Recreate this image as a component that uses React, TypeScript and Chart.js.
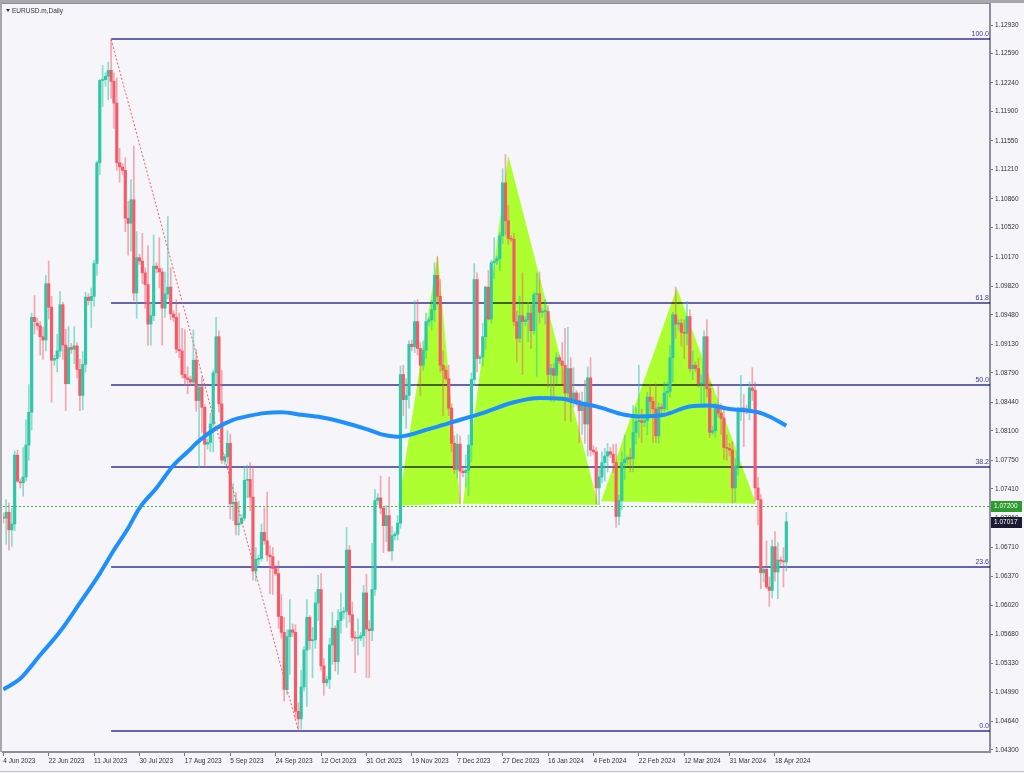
import React, { useEffect, useRef } from "react";
import { Chart, registerables } from "chart.js";
Chart.register(...registerables);

// ---- axis labels ----
const xTickIndex = [0, 16, 32, 48, 64, 80, 96, 112, 128, 144, 160, 176, 192, 208, 224, 240, 256, 272];
const xTickLabels = [
  "4 Jun 2023", "22 Jun 2023", "11 Jul 2023", "30 Jul 2023", "17 Aug 2023", "5 Sep 2023",
  "24 Sep 2023", "12 Oct 2023", "31 Oct 2023", "19 Nov 2023", "7 Dec 2023", "27 Dec 2023",
  "16 Jan 2024", "4 Feb 2024", "22 Feb 2024", "12 Mar 2024", "31 Mar 2024", "18 Apr 2024",
];
const yTickValues = [
  1.1293, 1.1259, 1.1224, 1.119, 1.1155, 1.1121, 1.1086, 1.1052, 1.1017, 1.0982, 1.0948, 1.0913,
  1.0879, 1.0844, 1.081, 1.0775, 1.0741, 1.0706, 1.0671, 1.0637, 1.0602, 1.0568, 1.0533, 1.0499,
  1.0464, 1.043,
];

// ---- daily candles (one line per week, Sunday bar first) ----
const opens = [
  1.0707, 1.0706, 1.0713, 1.0692, 1.0699, 1.0781,
  1.0749, 1.0748, 1.0755, 1.0793, 1.0832, 1.0945,
  1.0938, 1.0935, 1.0922, 1.0918, 1.0985, 1.0957,
  1.0894, 1.0896, 1.0905, 1.096, 1.0912, 1.0866,
  1.0909, 1.0907, 1.0911, 1.0883, 1.0852, 1.0889,
  1.0969, 1.0965, 1.097, 1.1009, 1.1129, 1.1227,
  1.1228, 1.1232, 1.1239, 1.1226, 1.12, 1.1129,
  1.1124, 1.112, 1.1063, 1.1057, 1.1085, 1.0974,
  1.1016, 1.1012, 1.0998, 1.0984, 1.0937, 1.0947,
  1.1006, 1.1003, 1.0999, 1.0956, 1.0973, 1.0981,
  1.0949, 1.0945, 1.0907, 1.0905, 1.0877, 1.0873,
  1.0871, 1.0868, 1.0894, 1.0846, 1.0862, 1.0838,
  1.0794, 1.0796, 1.0818, 1.0879, 1.0922, 1.0842,
  1.0775, 1.0779, 1.0795, 1.0723, 1.0725, 1.0698,
  1.07, 1.0706, 1.0751, 1.0752, 1.0731, 1.0643,
  1.0657, 1.0658, 1.0689, 1.0679, 1.0662, 1.066,
  1.0646, 1.064, 1.0589, 1.057, 1.0502, 1.0565,
  1.0573, 1.057, 1.0476, 1.0467, 1.0505, 1.0549,
  1.0588, 1.056, 1.0561, 1.0605, 1.0621, 1.053,
  1.051, 1.0514, 1.0555, 1.0575, 1.0535, 1.0584,
  1.0594, 1.0595, 1.0668, 1.0591, 1.0564, 1.0563,
  1.0563, 1.0566, 1.0617, 1.0574, 1.0572, 1.0621,
  1.0727, 1.073, 1.0718, 1.0697, 1.0709, 1.0667,
  1.0685, 1.0687, 1.07, 1.0877, 1.0847, 1.0852,
  1.0913, 1.091, 1.094, 1.0908, 1.0888, 1.0906,
  1.094, 1.0942, 1.0954, 1.0995, 1.097, 1.0888,
  1.0882, 1.0872, 1.0837, 1.0795, 1.0764, 1.0794,
  1.0762, 1.076, 1.0763, 1.0793, 1.0871, 1.099,
  1.0896, 1.0898, 1.0922, 1.0981, 1.0943, 1.101,
  1.1012, 1.1015, 1.1042, 1.1105, 1.106,
  1.1039, 1.1038, 1.094, 1.092, 1.0947,
  1.094, 1.0942, 1.095, 1.0929, 1.0972, 1.0973,
  1.0951, 1.0952, 1.0952, 1.0877, 1.0884, 1.0876,
  1.0897, 1.0893, 1.0888, 1.0855, 1.0884, 1.0845,
  1.0855, 1.0846, 1.0834, 1.0844, 1.0818, 1.0873,
  1.0787, 1.0785, 1.0742, 1.0755, 1.0772, 1.078,
  1.0785, 1.0782, 1.0772, 1.0708, 1.0727, 1.0772,
  1.0776, 1.0778, 1.0777, 1.0808, 1.0821, 1.0822,
  1.082, 1.0822, 1.085, 1.0845, 1.0836, 1.0804,
  1.0838, 1.0836, 1.0855, 1.0857, 1.0897, 1.0948,
  1.0937, 1.0938, 1.0927, 1.0926, 1.0946, 1.0884,
  1.0888, 1.0884, 1.0866, 1.0866, 1.0922, 1.086,
  1.0808, 1.081, 1.0838, 1.0831, 1.0825, 1.079,
  1.0789, 1.0787, 1.0742, 1.0768, 1.0836, 1.0837,
  1.0836, 1.0834, 1.0861, 1.0858, 1.0742, 1.0728,
  1.0641, 1.0645, 1.0624, 1.062, 1.0672, 1.0642,
  1.0656, 1.0655, 1.0654,
];
const highs = [
  1.0712, 1.0728, 1.0724, 1.0718, 1.0786, 1.0787,
  1.0753, 1.079, 1.0823, 1.0865, 1.095, 1.0971,
  1.0944, 1.094, 1.0933, 1.0995, 1.1012, 1.097,
  1.09, 1.0925, 1.0976, 1.0963, 1.0931, 1.0934,
  1.0914, 1.0934, 1.0915, 1.0895, 1.0904, 1.0975,
  1.0973, 1.098, 1.1013, 1.1131, 1.1228, 1.1245,
  1.1236, 1.1249, 1.1276, 1.1236, 1.123, 1.1146,
  1.1128, 1.1135, 1.1083, 1.1109, 1.1149, 1.1047,
  1.102, 1.1045, 1.1004, 1.103, 1.0963, 1.1043,
  1.101, 1.104, 1.1003, 1.0999, 1.1065, 1.1004,
  1.0953, 1.0966, 1.095, 1.0932, 1.093, 1.0886,
  1.0875, 1.093, 1.0906, 1.0864, 1.0874, 1.0841,
  1.08, 1.0831, 1.0882, 1.0945, 1.0929, 1.0882,
  1.0782, 1.081, 1.0806, 1.0747, 1.0736, 1.0726,
  1.071, 1.0768, 1.0769, 1.0772, 1.0768, 1.0671,
  1.0662, 1.0699, 1.0718, 1.0737, 1.0673, 1.0671,
  1.065, 1.0655, 1.0615, 1.0588, 1.0573, 1.0609,
  1.058, 1.0579, 1.0486, 1.0525, 1.0553, 1.0609,
  1.059, 1.0576, 1.0618, 1.0638, 1.064, 1.0539,
  1.0518, 1.0563, 1.0594, 1.0578, 1.0597, 1.0617,
  1.06, 1.0695, 1.0673, 1.0606, 1.0571, 1.0586,
  1.057, 1.0626, 1.0639, 1.0584, 1.0676, 1.074,
  1.0735, 1.0756, 1.072, 1.0721, 1.0755, 1.0696,
  1.069, 1.0709, 1.0887, 1.0888, 1.0872, 1.0917,
  1.0918, 1.0965, 1.0966, 1.0915, 1.0917, 1.095,
  1.0945, 1.0965, 1.101, 1.1017, 1.099, 1.0905,
  1.0886, 1.0888, 1.0842, 1.0804, 1.0806, 1.0804,
  1.0768, 1.0781, 1.0805, 1.0879, 1.1009, 1.0998,
  1.09, 1.0938, 1.0982, 1.1001, 1.1013, 1.104,
  1.1018, 1.1046, 1.1122, 1.1139, 1.1078,
  1.1042, 1.1045, 1.0952, 1.097, 1.0998,
  1.0945, 1.0963, 1.096, 1.0975, 1.0998, 1.0999,
  1.0955, 1.0966, 1.0959, 1.0889, 1.089, 1.0903,
  1.09, 1.0915, 1.0932, 1.0933, 1.0897, 1.0885,
  1.0858, 1.0855, 1.0856, 1.087, 1.0886, 1.0897,
  1.0792, 1.079, 1.0765, 1.0785, 1.0789, 1.0795,
  1.079, 1.0794, 1.0794, 1.0733, 1.0785, 1.0805,
  1.078, 1.0789, 1.084, 1.0838, 1.0888, 1.0836,
  1.0825, 1.0856, 1.0865, 1.085, 1.0866, 1.0843,
  1.0842, 1.0868, 1.0868, 1.0912, 1.0951, 1.0981,
  1.0942, 1.0943, 1.0942, 1.0964, 1.0954, 1.0905,
  1.0892, 1.0896, 1.0877, 1.0929, 1.0942, 1.0868,
  1.0815, 1.0843, 1.0864, 1.0842, 1.0838, 1.0805,
  1.0795, 1.0797, 1.0777, 1.0838, 1.0876, 1.0853,
  1.084, 1.0868, 1.0885, 1.0868, 1.0755, 1.0734,
  1.0648, 1.0679, 1.0636, 1.068, 1.069, 1.0677,
  1.066, 1.0671, 1.0713,
];
const lows = [
  1.07, 1.0675, 1.0668, 1.0672, 1.0691, 1.0749,
  1.0742, 1.0732, 1.075, 1.0775, 1.0811, 1.0925,
  1.093, 1.09, 1.0895, 1.0905, 1.0943, 1.0844,
  1.0888, 1.088, 1.0898, 1.0895, 1.0834, 1.0866,
  1.0902, 1.089, 1.0873, 1.0834, 1.0835, 1.088,
  1.096, 1.0933, 1.0958, 1.0995, 1.1115, 1.1196,
  1.122, 1.1204, 1.1206, 1.117, 1.112, 1.1106,
  1.1115, 1.1047, 1.1019, 1.1024, 1.0965, 1.0944,
  1.1008, 1.0985, 1.0956, 1.0912, 1.0912, 1.0941,
  1.0998, 1.098, 1.0912, 1.0945, 1.0967, 1.0942,
  1.094, 1.0903, 1.0897, 1.0873, 1.0864, 1.0854,
  1.0864, 1.0865, 1.0833, 1.0766, 1.0808, 1.0766,
  1.0788, 1.0785, 1.0785, 1.0866, 1.0832, 1.0771,
  1.077, 1.0771, 1.0705, 1.0703, 1.0686, 1.0686,
  1.0698, 1.0703, 1.073, 1.0715, 1.0632, 1.0631,
  1.065, 1.0655, 1.0675, 1.0655, 1.0616, 1.0615,
  1.0638, 1.0575, 1.0563, 1.0488, 1.0496, 1.052,
  1.0565, 1.0468, 1.0453, 1.0455, 1.05, 1.0482,
  1.055, 1.0516, 1.0551, 1.0584, 1.0525, 1.0495,
  1.0506, 1.0503, 1.0532, 1.0524, 1.052, 1.0569,
  1.0586, 1.0576, 1.0582, 1.056, 1.0522, 1.0543,
  1.056, 1.0553, 1.0516, 1.0516, 1.056, 1.0614,
  1.0722, 1.0711, 1.0665, 1.0678, 1.0666, 1.0656,
  1.068, 1.068, 1.0694, 1.0828, 1.0813, 1.0837,
  1.0905, 1.0903, 1.09, 1.0852, 1.0882, 1.0896,
  1.0935, 1.093, 1.094, 1.096, 1.088, 1.0828,
  1.087, 1.0828, 1.0785, 1.0759, 1.0754, 1.0723,
  1.0755, 1.0743, 1.0733, 1.0773, 1.0864, 1.088,
  1.089, 1.0887, 1.0907, 1.0942, 1.0938, 1.0991,
  1.1008, 1.1001, 1.1033, 1.1043, 1.1032,
  1.1035, 1.0935, 1.0892, 1.0915, 1.0877,
  1.0935, 1.0916, 1.0908, 1.0925, 1.0875, 1.0938,
  1.0945, 1.0937, 1.0862, 1.0845, 1.0845, 1.0866,
  1.089, 1.0866, 1.0822, 1.0848, 1.0821, 1.0838,
  1.084, 1.0796, 1.0806, 1.0795, 1.078, 1.078,
  1.0782, 1.0723, 1.0722, 1.0748, 1.075, 1.0761,
  1.0778, 1.076, 1.0695, 1.0698, 1.0716, 1.0752,
  1.077, 1.0761, 1.0761, 1.0794, 1.0802, 1.0796,
  1.0815, 1.0805, 1.0828, 1.0796, 1.0796, 1.0795,
  1.083, 1.0833, 1.0835, 1.085, 1.0868, 1.092,
  1.093, 1.0911, 1.0896, 1.0912, 1.088, 1.0871,
  1.088, 1.0862, 1.0838, 1.0838, 1.085, 1.0802,
  1.0805, 1.0802, 1.0826, 1.0806, 1.0776, 1.0775,
  1.078, 1.0724, 1.0725, 1.0757, 1.0822, 1.0791,
  1.083, 1.0823, 1.0846, 1.0727, 1.0698, 1.0622,
  1.063, 1.0622, 1.0601, 1.0611, 1.0631, 1.061,
  1.065, 1.0624, 1.0643,
];
const closes = [
  1.0706, 1.0713, 1.0692, 1.0699, 1.0781, 1.075,
  1.0748, 1.0755, 1.0793, 1.0832, 1.0945, 1.094,
  1.0935, 1.0922, 1.0918, 1.0985, 1.0957, 1.0894,
  1.0896, 1.0905, 1.096, 1.0912, 1.0866, 1.0909,
  1.0907, 1.0911, 1.0883, 1.0852, 1.0889, 1.0969,
  1.0965, 1.097, 1.1009, 1.1129, 1.1227, 1.1228,
  1.1232, 1.1239, 1.1226, 1.12, 1.1129, 1.1124,
  1.112, 1.1063, 1.1057, 1.1085, 1.0974, 1.1016,
  1.1012, 1.0998, 1.0984, 1.0937, 1.0947, 1.1006,
  1.1003, 1.0999, 1.0956, 1.0973, 1.0981, 1.0949,
  1.0945, 1.0907, 1.0905, 1.0877, 1.0873, 1.0871,
  1.0868, 1.0894, 1.0846, 1.0862, 1.0838, 1.0794,
  1.0796, 1.0818, 1.0879, 1.0922, 1.0842, 1.0775,
  1.0779, 1.0795, 1.0723, 1.0725, 1.0698, 1.07,
  1.0706, 1.0751, 1.0752, 1.0731, 1.0643, 1.0657,
  1.0658, 1.0689, 1.0679, 1.0662, 1.066, 1.0646,
  1.064, 1.0589, 1.057, 1.0502, 1.0565, 1.0573,
  1.057, 1.0476, 1.0467, 1.0505, 1.0549, 1.0588,
  1.056, 1.0561, 1.0605, 1.0621, 1.053, 1.051,
  1.0514, 1.0555, 1.0575, 1.0535, 1.0584, 1.0594,
  1.0595, 1.0668, 1.0591, 1.0564, 1.0563, 1.0563,
  1.0566, 1.0617, 1.0574, 1.0572, 1.0621, 1.0727,
  1.073, 1.0718, 1.0697, 1.0709, 1.0667, 1.0685,
  1.0687, 1.07, 1.0877, 1.0847, 1.0852, 1.0913,
  1.091, 1.094, 1.0908, 1.0888, 1.0906, 1.094,
  1.0942, 1.0954, 1.0995, 1.097, 1.0888, 1.0882,
  1.0872, 1.0837, 1.0795, 1.0764, 1.0794, 1.0762,
  1.076, 1.0763, 1.0793, 1.0871, 1.099, 1.0896,
  1.0898, 1.0922, 1.0981, 1.0943, 1.101, 1.1012,
  1.1015, 1.1042, 1.1105, 1.106, 1.1039,
  1.1038, 1.094, 1.092, 1.0947, 1.094,
  1.0942, 1.095, 1.0929, 1.0972, 1.0973, 1.0951,
  1.0952, 1.0952, 1.0877, 1.0884, 1.0876, 1.0897,
  1.0893, 1.0888, 1.0855, 1.0884, 1.0845, 1.0855,
  1.0846, 1.0834, 1.0844, 1.0818, 1.0873, 1.0787,
  1.0785, 1.0742, 1.0755, 1.0772, 1.078, 1.0785,
  1.0782, 1.0772, 1.0708, 1.0727, 1.0772, 1.0776,
  1.0778, 1.0777, 1.0808, 1.0821, 1.0822, 1.082,
  1.0822, 1.085, 1.0845, 1.0836, 1.0804, 1.0838,
  1.0836, 1.0855, 1.0857, 1.0897, 1.0948, 1.0937,
  1.0938, 1.0927, 1.0926, 1.0946, 1.0884, 1.0888,
  1.0884, 1.0866, 1.0866, 1.0922, 1.086, 1.0808,
  1.081, 1.0838, 1.0831, 1.0825, 1.079, 1.0789,
  1.0787, 1.0742, 1.0768, 1.0836, 1.0837, 1.0836,
  1.0834, 1.0861, 1.0858, 1.0742, 1.0728, 1.0641,
  1.0645, 1.0624, 1.062, 1.0672, 1.0642, 1.0656,
  1.0655, 1.0654, 1.07017,
];

// ---- moving average (sampled along the curve) ----
const maIdx = [0, 6, 13, 20, 27, 34, 39, 44, 48, 54, 60, 65, 69, 75, 81, 87, 92, 98, 105, 112, 121, 128, 133, 139, 150, 159, 168, 180, 189, 197, 203, 209, 219, 224, 233, 242, 249, 256, 266, 270, 276];
const maValues = [1.0502, 1.0515, 1.0543, 1.0571, 1.0605, 1.064, 1.0668, 1.0694, 1.0718, 1.0742, 1.0769, 1.0785, 1.0798, 1.0813, 1.0823, 1.0828, 1.0831, 1.0832, 1.0829, 1.0826, 1.0819, 1.0812, 1.0806, 1.0803, 1.0812, 1.0821, 1.083, 1.0844, 1.0849, 1.0848, 1.0843, 1.0839, 1.0829, 1.0827, 1.0829, 1.0839, 1.084, 1.0836, 1.0832, 1.0827, 1.0816];

// ---- drawings ----
const triangleIdx = [[139.2, 153.1, 161.1], [162.0, 178.0, 209.7], [210.7, 237.4, 265.3]];
const trianglePrice = [[1.0721, 1.102, 1.0723], [1.0723, 1.1138, 1.0722], [1.0726, 1.098, 1.0723]];
const fibStartIdx = 38;
const fibEndIdx = 104;
const fibHigh = 1.1276;
const fibLow = 1.0453;
const fibLevels = [100, 61.8, 50, 38.2, 23.6, 0];
const fibLabels = ["100.0", "61.8", "50.0", "38.2", "23.6", "0.0"];
const alertPrice = 1.072;
const lastPrice = 1.07017;

const X_MIN = -0.106;
const X_MAX = 347.79;
const Y_MIN = 1.04276;
const Y_MAX = 1.1318;

const BULL = "#2EC8A6";
const BEAR = "#F55A68";
const BULL_WICK = "rgba(46,200,166,0.55)";
const BEAR_WICK = "rgba(245,90,104,0.5)";
const FONT = "Liberation Sans";

const overlayPlugin = {
  id: "overlay",
  beforeDatasetsDraw(chart: any) {
    const { ctx, chartArea: a, scales } = chart;
    const x = scales.x, y = scales.y;
    ctx.save();
    ctx.beginPath();
    ctx.rect(a.left, a.top, a.right - a.left, a.bottom - a.top);
    ctx.clip();
    ctx.fillStyle = "#ADFF2F";
    triangleIdx.forEach((tx, k) => {
      ctx.beginPath();
      tx.forEach((v, j) => {
        const px = x.getPixelForValue(v);
        const py = y.getPixelForValue(trianglePrice[k][j]);
        if (j === 0) ctx.moveTo(px, py); else ctx.lineTo(px, py);
      });
      ctx.closePath();
      ctx.fill();
    });
    ctx.globalCompositeOperation = "multiply";
    ctx.strokeStyle = "#6464B0";
    ctx.lineWidth = 2;
    const x0 = x.getPixelForValue(fibStartIdx);
    fibLevels.forEach((l) => {
      const p = fibLow + ((fibHigh - fibLow) * l) / 100;
      const py = Math.round(y.getPixelForValue(p));
      ctx.beginPath();
      ctx.moveTo(x0, py);
      ctx.lineTo(a.right, py);
      ctx.stroke();
    });
    ctx.globalCompositeOperation = "source-over";
    ctx.fillStyle = "#3C3C96";
    ctx.font = `7px "${FONT}"`;
    ctx.textAlign = "right";
    ctx.textBaseline = "bottom";
    fibLevels.forEach((l, i) => {
      const p = fibLow + ((fibHigh - fibLow) * l) / 100;
      const py = Math.round(y.getPixelForValue(p));
      ctx.fillText(fibLabels[i], a.right - 1, py - 1);
    });
    ctx.restore();
  },
  afterDatasetsDraw(chart: any) {
    const { ctx, chartArea: a, scales } = chart;
    const x = scales.x, y = scales.y;
    ctx.save();
    ctx.beginPath();
    ctx.rect(a.left, a.top, a.right - a.left, a.bottom - a.top);
    ctx.clip();
    ctx.strokeStyle = "#F25C64";
    ctx.lineWidth = 1;
    ctx.setLineDash([2, 2]);
    ctx.beginPath();
    ctx.moveTo(x.getPixelForValue(fibStartIdx), y.getPixelForValue(fibHigh));
    ctx.lineTo(x.getPixelForValue(fibEndIdx), y.getPixelForValue(fibLow));
    ctx.stroke();
    ctx.strokeStyle = "#45B045";
    const ay = Math.round(y.getPixelForValue(alertPrice)) + 0.5;
    ctx.beginPath();
    ctx.moveTo(a.left, ay);
    ctx.lineTo(a.right, ay);
    ctx.stroke();
    ctx.restore();
  },
  afterDraw(chart: any) {
    const { ctx, chartArea: a, scales } = chart;
    const y = scales.y;
    ctx.save();
    ctx.fillStyle = "#A8A8AC";
    ctx.fillRect(0, 0, chart.width, 3);
    ctx.fillRect(0, 0, 2, a.bottom);
    ctx.strokeStyle = "#8E8E9A";
    ctx.lineWidth = 1;
    ctx.beginPath();
    ctx.moveTo(2, 3.5);
    ctx.lineTo(a.right, 3.5);
    ctx.stroke();
    ctx.strokeStyle = "#C4C4C8";
    ctx.beginPath();
    ctx.moveTo(0, 771.5);
    ctx.lineTo(chart.width, 771.5);
    ctx.stroke();
    ctx.fillStyle = "#333";
    ctx.beginPath();
    ctx.moveTo(6, 9);
    ctx.lineTo(10, 9);
    ctx.lineTo(8, 12);
    ctx.closePath();
    ctx.fill();
    ctx.font = `6.5px "${FONT}"`;
    ctx.textAlign = "left";
    ctx.textBaseline = "middle";
    ctx.fillText("EURUSD.m,Daily", 12, 11);
    const box = (price: number, bg: string) => {
      const cy = Math.round(y.getPixelForValue(price));
      ctx.fillStyle = bg;
      ctx.fillRect(a.right + 1, cy - 5, 31, 11);
      ctx.fillStyle = "#FFFFFF";
      ctx.textAlign = "left";
      ctx.textBaseline = "middle";
      ctx.fillText(price.toFixed(5), a.right + 4, cy + 0.5);
    };
    box(alertPrice, "#2E9B2E");
    box(lastPrice, "#1A1A30");
    ctx.restore();
  },
};

export default function App() {
  const ref = useRef<HTMLCanvasElement>(null);
  useEffect(() => {
    const bodyData = opens.map((o, i) => ({ x: i, y: [o, closes[i]] }));
    const wickData = highs.map((h, i) => ({ x: i, y: [lows[i], h] }));
    const maData = maIdx.map((v, i) => ({ x: v, y: maValues[i] }));
    const isBull = (i: number) => closes[i] >= opens[i];
    const chart = new Chart(ref.current as HTMLCanvasElement, {
      type: "bar",
      data: {
        datasets: [
          {
            type: "line",
            data: maData as any,
            borderColor: "#1E8FFF",
            borderWidth: 4,
            pointRadius: 0,
            cubicInterpolationMode: "monotone",
            order: 0,
          } as any,
          {
            data: bodyData as any,
            backgroundColor: (c: any) => (isBull(c.dataIndex) ? BULL : BEAR),
            barThickness: 2.5,
            minBarLength: 1,
            grouped: false,
            order: 1,
          } as any,
          {
            data: wickData as any,
            backgroundColor: (c: any) => (isBull(c.dataIndex) ? BULL_WICK : BEAR_WICK),
            barThickness: 1,
            grouped: false,
            order: 2,
          } as any,
        ],
      },
      options: {
        responsive: false,
        animation: false,
        devicePixelRatio: 1,
        events: [],
        layout: { padding: { left: 3, top: 4, right: 0, bottom: 0 } },
        plugins: { legend: { display: false }, tooltip: { enabled: false } },
        scales: {
          x: {
            type: "linear",
            min: X_MIN,
            max: X_MAX,
            offset: false,
            grid: { display: true, drawOnChartArea: false, drawTicks: true, tickLength: 4, color: "#777", offset: false },
            border: { display: true, color: "#8E8E9A", width: 2 },
            ticks: {
              align: "start",
              maxRotation: 0,
              minRotation: 0,
              autoSkip: false,
              padding: 1,
              color: "#333",
              font: { family: FONT, size: 6.5 },
              callback: (v: any) => {
                const k = xTickIndex.indexOf(Number(v));
                return k >= 0 ? xTickLabels[k] : "";
              },
            },
            afterBuildTicks: (s: any) => {
              s.ticks = xTickIndex.map((v) => ({ value: v }));
            },
            afterFit: (s: any) => {
              s.height = 21;
              s.paddingLeft = 0;
              s.paddingRight = 0;
            },
          } as any,
          y: {
            type: "linear",
            position: "right",
            min: Y_MIN,
            max: Y_MAX,
            grid: { display: true, drawOnChartArea: false, drawTicks: true, tickLength: 3, color: "#777" },
            border: { display: true, color: "#8E8E9A", width: 2 },
            ticks: {
              padding: 2,
              color: "#333",
              font: { family: FONT, size: 6.5 },
              autoSkip: false,
              callback: (v: any) => Number(v).toFixed(5),
            },
            afterBuildTicks: (s: any) => {
              s.ticks = yTickValues.map((v) => ({ value: v }));
            },
            afterFit: (s: any) => {
              s.width = 34;
              s.paddingTop = 0;
              s.paddingBottom = 0;
            },
          } as any,
        },
      },
      plugins: [overlayPlugin],
    } as any);
    return () => chart.destroy();
  }, []);
  return (
    <div style={{ position: "fixed", left: 0, top: 0, width: 1024, height: 773, background: "#F5F5FA" }}>
      <canvas ref={ref} width={1024} height={773} style={{ display: "block" }} />
    </div>
  );
}
